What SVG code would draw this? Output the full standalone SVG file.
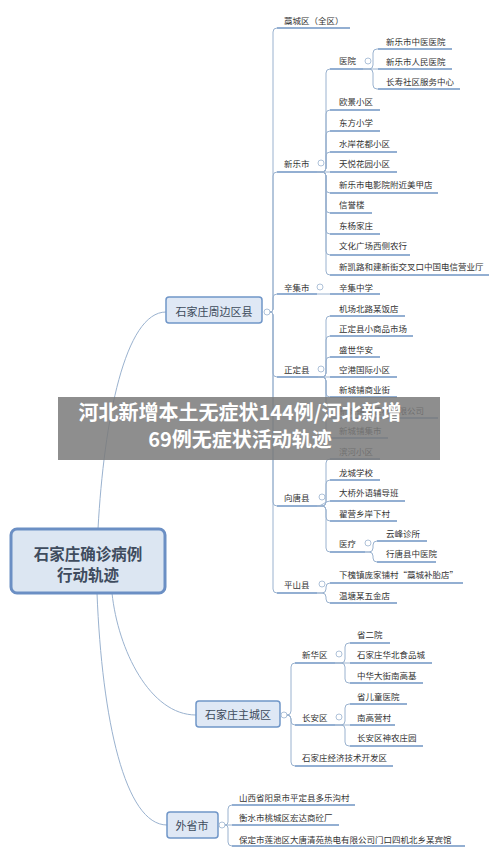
<svg xmlns="http://www.w3.org/2000/svg" width="500" height="857" viewBox="0 0 500 857">
<style>
text{font-family:"Noto Sans CJK SC","Noto Sans",sans-serif;dominant-baseline:central}
.t{font-size:8.5px;fill:#333}
.ul{stroke:#6f94c3;stroke-width:1.6;fill:none}
.cn{stroke:#9ab2cf;stroke-width:1;fill:none}
.cc{fill:#fff;stroke:#9ab2cf;stroke-width:0.8}
.box{fill:#dfe8f5;stroke:#7096c8;stroke-width:1.5}
.bt{font-size:11px;fill:#3d4b5c;text-anchor:middle}
.ct{font-size:15.5px;font-weight:700;fill:#3f4c5e;text-anchor:middle}
.bn{font-size:20px;font-weight:700;fill:#fff;text-anchor:middle}
</style>
<rect width="500" height="857" fill="#fff"/>
<g id="connectors">
<path class="cn" d="M98 529C104 420 125 312 166 312"/>
<path class="cn" d="M112 593C118 650 150 715 196 715"/>
<path class="cn" d="M97 593C102 720 125 825 167 825"/>
<path class="cn" d="M270 312Q273 312 273 309V32Q273 28 277 28"/>
<path class="cn" d="M270 312Q273 312 273 309V176Q273 172 277 172"/>
<path class="cn" d="M270 312Q273 312 273 309V298Q273 294 277 294"/>
<path class="cn" d="M270 312Q273 312 273 315V373Q273 377 277 377"/>
<path class="cn" d="M270 312Q273 312 273 315V502Q273 506 277 506"/>
<path class="cn" d="M270 312Q273 312 273 315V589Q273 593 277 593"/>
<path class="cn" d="M317 172H322Q326 172 326 168V73Q326 69 330 69"/>
<path class="cn" d="M317 172H322Q326 172 326 168V114Q326 110 330 110"/>
<path class="cn" d="M317 172H322Q326 172 326 168V135Q326 131 330 131"/>
<path class="cn" d="M317 172H322Q326 172 326 168V156Q326 152 330 152"/>
<path class="cn" d="M317 172H330"/>
<path class="cn" d="M317 172H322Q326 172 326 176V189Q326 193 330 193"/>
<path class="cn" d="M317 172H322Q326 172 326 176V209Q326 213 330 213"/>
<path class="cn" d="M317 172H322Q326 172 326 176V230Q326 234 330 234"/>
<path class="cn" d="M317 172H322Q326 172 326 176V251Q326 255 330 255"/>
<path class="cn" d="M317 172H322Q326 172 326 176V271Q326 275 330 275"/>
<path class="cn" d="M363 69H369Q373 69 373 65V53Q373 49 377 49H378"/>
<path class="cn" d="M363 69H378"/>
<path class="cn" d="M363 69H369Q373 69 373 73V85Q373 89 377 89H378"/>
<path class="cn" d="M317 294H330"/>
<path class="cn" d="M318 377H322Q326 377 326 373V320Q326 316 330 316"/>
<path class="cn" d="M318 377H322Q326 377 326 373V340Q326 336 330 336"/>
<path class="cn" d="M318 377H322Q326 377 326 373V361Q326 357 330 357"/>
<path class="cn" d="M318 377H330"/>
<path class="cn" d="M318 377H322Q326 377 326 381V393Q326 397 330 397"/>
<path class="cn" d="M318 377H322Q326 377 326 381V414Q326 418 330 418"/>
<path class="cn" d="M318 377H322Q326 377 326 381V434Q326 438 330 438"/>
<path class="cn" d="M317 506H322Q326 506 326 502V463Q326 459 330 459"/>
<path class="cn" d="M317 506H322Q326 506 326 502V484Q326 480 330 480"/>
<path class="cn" d="M317 506C323 506 325 501 330 501"/>
<path class="cn" d="M317 506H322Q326 506 326 510V517Q326 521 330 521"/>
<path class="cn" d="M317 506H322Q326 506 326 510V548Q326 552 330 552"/>
<path class="cn" d="M365 552H369Q373 552 373 548V545Q373 541 377 541"/>
<path class="cn" d="M365 552H369Q373 552 373 556V558Q373 562 377 562"/>
<path class="cn" d="M317 593H322Q326 593 326 589V587Q326 583 330 583"/>
<path class="cn" d="M317 593H322Q326 593 326 597V599Q326 603 330 603"/>
<path class="cn" d="M287 715Q291 715 291 711V667Q291 663 295 663"/>
<path class="cn" d="M287 715Q291 715 291 719V721Q291 725 295 725"/>
<path class="cn" d="M287 715Q291 715 291 719V762Q291 766 295 766"/>
<path class="cn" d="M335 663H341Q345 663 345 659V647Q345 643 349 643H350"/>
<path class="cn" d="M335 663H350"/>
<path class="cn" d="M335 663H341Q345 663 345 667V679Q345 683 349 683H350"/>
<path class="cn" d="M335 725H341Q345 725 345 721V708Q345 704 349 704H350"/>
<path class="cn" d="M335 725H350"/>
<path class="cn" d="M335 725H341Q345 725 345 729V742Q345 746 349 746H350"/>
<path class="cn" d="M225 825Q228 825 228 822V809Q228 805 232 805"/>
<path class="cn" d="M225 825H232"/>
<path class="cn" d="M225 825Q228 825 228 828V842Q228 846 232 846"/>
</g>
<g id="center"><rect x="11" y="529" width="154" height="64" rx="6" fill="#dce6f2" stroke="#6b8fc4" stroke-width="3"/><text class="ct" x="88" y="553">石家庄确诊病例</text><text class="ct" x="88" y="574">行动轨迹</text></g>
<g id="zhoubian"><rect class="box" x="166" y="297" width="96" height="26" rx="3"/><text class="bt" x="214" y="311">石家庄周边区县</text><circle class="cc" cx="267" cy="312" r="3"/></g>
<g id="zhucheng"><rect class="box" x="196" y="701" width="84" height="26" rx="3"/><text class="bt" x="238" y="714">石家庄主城区</text><circle class="cc" cx="284" cy="715" r="3"/></g>
<g id="waisheng"><rect class="box" x="167" y="812" width="51" height="26" rx="3"/><text class="bt" x="192" y="825">外省市</text><circle class="cc" cx="222" cy="825" r="3"/></g>
<g id="gaocheng"><text class="t" x="284" y="20">藁城区（全区）</text><path class="ul" d="M277 28H350"/></g>
<g id="xinle"><text class="t" x="284" y="163">新乐市</text><path class="ul" d="M277 172H317"/><circle class="cc" cx="321" cy="163" r="3"/></g>
<g id="xinji"><text class="t" x="284" y="287">辛集市</text><path class="ul" d="M277 294H317"/><circle class="cc" cx="320" cy="287" r="3"/></g>
<g id="zhengding"><text class="t" x="284" y="369">正定县</text><path class="ul" d="M277 377H318"/><circle class="cc" cx="321" cy="369" r="3"/></g>
<g id="xiangtang"><text class="t" x="284" y="497">向唐县</text><path class="ul" d="M277 506H317"/><circle class="cc" cx="322" cy="497" r="3"/></g>
<g id="pingshan"><text class="t" x="284" y="584">平山县</text><path class="ul" d="M277 593H317"/><circle class="cc" cx="322" cy="584" r="3"/></g>
<g id="yiyuan"><text class="t" x="339" y="60">医院</text><path class="ul" d="M330 69H363"/><circle class="cc" cx="368" cy="61" r="3"/></g>
<g id="xl1"><text class="t" x="386" y="41">新乐市中医医院</text><path class="ul" d="M378 49H452"/></g>
<g id="xl2"><text class="t" x="386" y="61">新乐市人民医院</text><path class="ul" d="M378 69H452"/></g>
<g id="xl3"><text class="t" x="386" y="81">长寿社区服务中心</text><path class="ul" d="M378 89H460"/></g>
<g id="xl4"><text class="t" x="339" y="101">欧景小区</text><path class="ul" d="M330 110H380"/></g>
<g id="xl5"><text class="t" x="339" y="122">东方小学</text><path class="ul" d="M330 131H380"/></g>
<g id="xl6"><text class="t" x="339" y="143">水岸花都小区</text><path class="ul" d="M330 152H397"/></g>
<g id="xl7"><text class="t" x="339" y="163">天悦花园小区</text><path class="ul" d="M330 172H397"/></g>
<g id="xl8"><text class="t" x="339" y="184">新乐市电影院附近美甲店</text><path class="ul" d="M330 193H438"/></g>
<g id="xl9"><text class="t" x="339" y="204">信誉楼</text><path class="ul" d="M330 213H372"/></g>
<g id="xl10"><text class="t" x="339" y="225">东杨家庄</text><path class="ul" d="M330 234H380"/></g>
<g id="xl11"><text class="t" x="339" y="245">文化广场西侧农行</text><path class="ul" d="M330 255H410"/></g>
<g id="xl12"><text class="t" x="339" y="266">新凯路和建新街交叉口中国电信营业厅</text><path class="ul" d="M330 275H489"/></g>
<g id="xj1"><text class="t" x="339" y="287">辛集中学</text><path class="ul" d="M330 294H380"/></g>
<g id="zd1"><text class="t" x="339" y="308">机场北路某饭店</text><path class="ul" d="M330 316H405"/></g>
<g id="zd2"><text class="t" x="339" y="328">正定县小商品市场</text><path class="ul" d="M330 336H413"/></g>
<g id="zd3"><text class="t" x="339" y="349">盛世华安</text><path class="ul" d="M330 357H380"/></g>
<g id="zd4"><text class="t" x="339" y="369">空港国际小区</text><path class="ul" d="M330 377H397"/></g>
<g id="zd5"><text class="t" x="339" y="389">新城铺商业街</text><path class="ul" d="M330 397H397"/></g>
<g id="zd6"><text class="t" x="339" y="410">新城铺某建材有限公司</text><path class="ul" d="M330 418H438"/></g>
<g id="zd7"><text class="t" x="339" y="430">新城铺集市</text><path class="ul" d="M330 438H388"/></g>
<g id="xt1"><text class="t" x="339" y="451">滨河小区</text><path class="ul" d="M330 459H380"/></g>
<g id="xt2"><text class="t" x="339" y="472">龙城学校</text><path class="ul" d="M330 480H380"/></g>
<g id="xt3"><text class="t" x="339" y="492">大桥外语辅导班</text><path class="ul" d="M330 501H405"/></g>
<g id="xt4"><text class="t" x="339" y="513">翟营乡岸下村</text><path class="ul" d="M330 521H397"/></g>
<g id="yiliao"><text class="t" x="339" y="543">医疗</text><path class="ul" d="M330 552H365"/><circle class="cc" cx="368" cy="543" r="3"/></g>
<g id="yl1"><text class="t" x="386" y="533">云峰诊所</text><path class="ul" d="M377 541H427"/></g>
<g id="yl2"><text class="t" x="386" y="553">行唐县中医院</text><path class="ul" d="M377 562H436"/></g>
<g id="ps1"><text class="t" x="339" y="574">下槐镇庞家铺村“藁城补胎店”</text><path class="ul" d="M330 583H463"/></g>
<g id="ps2"><text class="t" x="339" y="595">温塘某五金店</text><path class="ul" d="M330 603H397"/></g>
<g id="xinhua"><text class="t" x="302" y="654">新华区</text><path class="ul" d="M295 663H335"/><circle class="cc" cx="339" cy="654" r="3"/></g>
<g id="changan"><text class="t" x="302" y="717">长安区</text><path class="ul" d="M295 725H335"/><circle class="cc" cx="339" cy="717" r="3"/></g>
<g id="kaifa"><text class="t" x="302" y="757">石家庄经济技术开发区</text><path class="ul" d="M295 766H393"/></g>
<g id="xh1"><text class="t" x="357" y="634">省二院</text><path class="ul" d="M350 643H390"/></g>
<g id="xh2"><text class="t" x="357" y="654">石家庄华北食品城</text><path class="ul" d="M350 663H432"/></g>
<g id="xh3"><text class="t" x="357" y="675">中华大街南高基</text><path class="ul" d="M350 683H423"/></g>
<g id="ca1"><text class="t" x="357" y="696">省儿童医院</text><path class="ul" d="M350 704H407"/></g>
<g id="ca2"><text class="t" x="357" y="717">南高营村</text><path class="ul" d="M350 725H395"/></g>
<g id="ca3"><text class="t" x="357" y="737">长安区神农庄园</text><path class="ul" d="M350 746H423"/></g>
<g id="ws1"><text class="t" x="239" y="797">山西省阳泉市平定县多乐沟村</text><path class="ul" d="M232 805H355"/></g>
<g id="ws2"><text class="t" x="239" y="817">衡水市桃城区宏达商砼厂</text><path class="ul" d="M232 825H339"/></g>
<g id="ws3"><text class="t" x="239" y="839">保定市莲池区大唐清苑热电有限公司门口四机北乡某宾馆</text><path class="ul" d="M232 846H465"/></g>
<g id="banner"><rect x="58" y="397" width="382" height="63" fill="#7a7a7a" fill-opacity="0.85"/><text class="bn" x="240" y="411">河北新增本土无症状144例/河北新增</text><text class="bn" x="240" y="438">69例无症状活动轨迹</text></g>
</svg>
